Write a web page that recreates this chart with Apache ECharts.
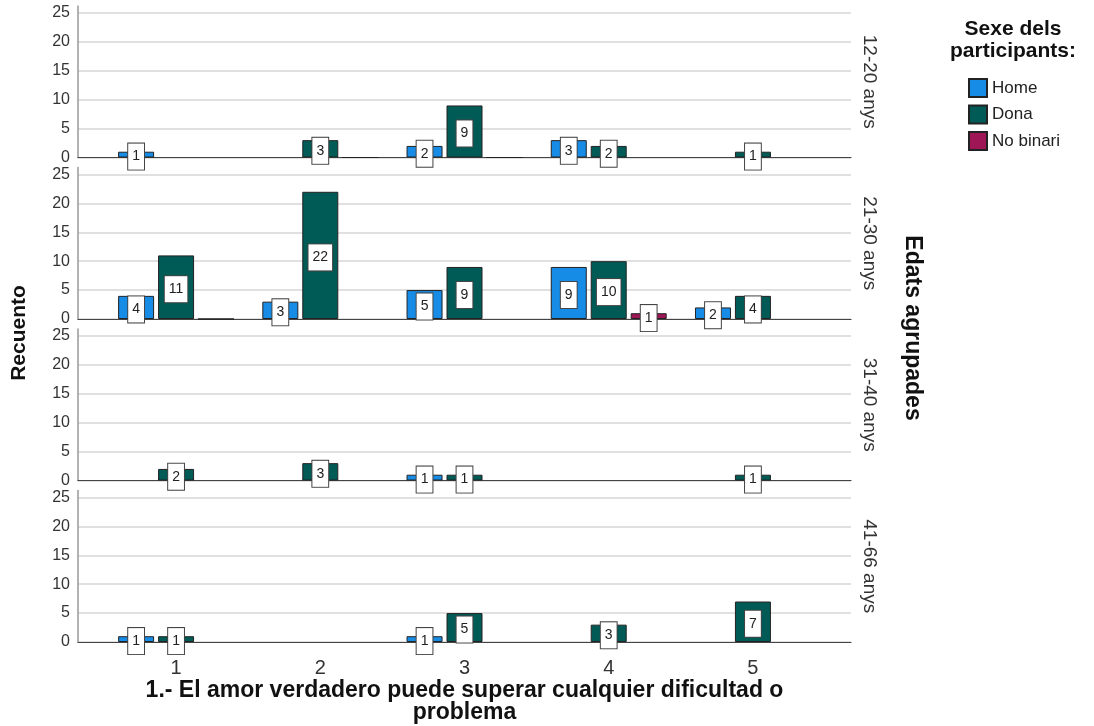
<!DOCTYPE html>
<html>
<head>
<meta charset="utf-8">
<script src="https://cdn.jsdelivr.net/npm/echarts@6/dist/echarts.min.js"></script>
<style>
  html, body { margin: 0; padding: 0; background: #fff; }
  #chart { width: 1094px; height: 726px; }
</style>
</head>
<body>
<div id="chart"></div>
<script>
// dades
var categories = [1, 2, 3, 4, 5];
var ageGroups = ["12-20 anys", "21-30 anys", "31-40 anys", "41-66 anys"];
var sexes = ["Home", "Dona", "No binari"];
var yTicks = [0, 5, 10, 15, 20, 25];
// una fila per grup d'edat, una columna per resposta (null = sense barra)
var home = [
  [1, null, 2, 3, null],
  [4, 3, 5, 9, 2],
  [null, null, 1, null, null],
  [1, null, 1, null, null]
];
var dona = [
  [null, 3, 9, 2, 1],
  [11, 22, 9, 10, 4],
  [2, 3, 1, null, 1],
  [1, null, 5, 3, 7]
];
var noBinari = [
  [null, 0, 0, null, null],
  [0, null, null, 1, null],
  [null, null, null, null, null],
  [null, null, null, null, null]
];

(function(){
  var myChart = echarts.init(document.getElementById("chart"));
  var font = "'Liberation Sans', Arial, sans-serif";
  var colors = ["#168ce6", "#005b56", "#9e1656"];
  var values = [home, dona, noBinari];

  var tops = [6, 167.5, 329, 490.5];
  var grids = [], xAxes = [], yAxes = [], rightAxes = [], series = [];

  tops.forEach(function(top, p){
    grids.push({ left: 78, right: 243, top: top, height: 151.5, outerBoundsMode: "none", containLabel: false });
    xAxes.push({
      type: "value",
      gridIndex: p,
      min: 0.32,
      max: 5.68,
      axisLine: { show: true, onZero: false, lineStyle: { color: "#444", width: 1.2 } },
      axisTick: { show: false },
      splitLine: { show: false },
      axisLabel: p === 3 ? {
        customValues: categories,
        color: "#333",
        fontSize: 20,
        fontFamily: font,
        margin: 16
      } : { show: false },
      name: p === 3 ? "1.- El amor verdadero puede superar cualquier dificultad o\nproblema" : "",
      nameLocation: "middle",
      nameGap: 38,
      nameTextStyle: { fontSize: 23, fontWeight: "bold", color: "#111", fontFamily: font, lineHeight: 22 }
    });
    yAxes.push({
      type: "value",
      gridIndex: p,
      min: yTicks[0],
      max: 26.2,
      interval: 5,
      axisLine: { show: true, lineStyle: { color: "#999", width: 1.5 } },
      axisTick: { show: false },
      axisLabel: {
        color: "#333", fontSize: 16, fontFamily: font, margin: 8,
        padding: [6, 0, 0, 0],
        formatter: function(v){ return yTicks.indexOf(v) >= 0 ? String(v) : ""; }
      },
      splitLine: { show: true, showMaxLine: false, lineStyle: { color: "#d6d6d6", width: 1.5 } }
    });
    rightAxes.push({
      type: "value",
      gridIndex: p,
      position: "right",
      min: 0,
      max: 26.2,
      axisLine: { show: false },
      axisTick: { show: false },
      axisLabel: { show: false },
      splitLine: { show: false },
      name: ageGroups[p],
      nameLocation: "middle",
      nameRotate: -90,
      nameGap: 9,
      nameTextStyle: { fontSize: 19, color: "#333", fontFamily: font }
    });

    values.forEach(function(arr, s){
      var data = [];
      arr[p].forEach(function(v, i){
        if (v === null) return;
        var item = { value: [categories[i], v] };
        if (v === 0) item.label = { show: false };
        data.push(item);
      });
      series.push({
        name: sexes[s],
        type: "bar",
        xAxisIndex: p,
        yAxisIndex: p,
        barWidth: 36,
        barGap: "11%",
        data: data,
        itemStyle: { color: colors[s], borderColor: "#222", borderWidth: 1 },
        label: {
          show: true,
          position: "inside",
          formatter: function(param){ return param.value[1]; },
          color: "#222",
          fontSize: 14,
          fontFamily: font,
          backgroundColor: "#fff",
          borderColor: "#444",
          borderWidth: 1,
          padding: [6, 4, 6, 4],
          offset: [0, 2]
        },
        emphasis: { disabled: true }
      });
    });
  });

  var option = {
    backgroundColor: "#fff",
    animation: false,
    grid: grids,
    xAxis: xAxes,
    yAxis: yAxes.concat(rightAxes),
    legend: {
      data: sexes,
      orient: "vertical",
      left: 968,
      top: 78,
      padding: 0,
      itemWidth: 18,
      itemHeight: 18,
      itemGap: 6.5,
      icon: "rect",
      textStyle: { fontSize: 17, color: "#222", fontFamily: font }
    },
    graphic: [
      {
        type: "text", x: 1013, y: 40,
        style: { text: "Sexe dels\nparticipants:", textAlign: "center", textVerticalAlign: "middle",
                 font: "bold 21px " + font, fill: "#111", lineHeight: 22 }
      },
      {
        type: "text", x: 19, y: 333, rotation: Math.PI / 2,
        style: { text: "Recuento", textAlign: "center", textVerticalAlign: "middle",
                 font: "bold 21px " + font, fill: "#111" }
      },
      {
        type: "text", x: 912, y: 328, rotation: -Math.PI / 2,
        style: { text: "Edats agrupades", textAlign: "center", textVerticalAlign: "middle",
                 font: "bold 23px " + font, fill: "#111" }
      }
    ],
    series: series
  };

  myChart.setOption(option);
  window.addEventListener("resize", function(){ myChart.resize(); });
})();
</script>
</body>
</html>
